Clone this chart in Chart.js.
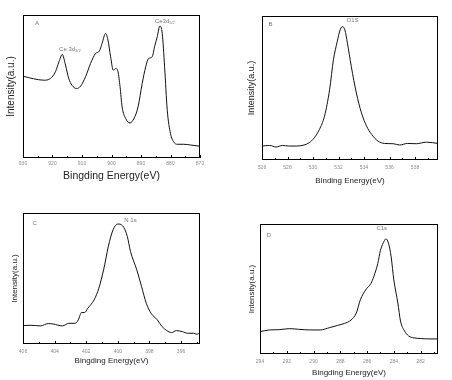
<!DOCTYPE html>
<html>
<head>
<meta charset="utf-8">
<script src="https://cdn.jsdelivr.net/npm/chart.js@4.4.0/dist/chart.umd.min.js"></script>
<style>
  html, body { margin: 0; padding: 0; background: #fff; }
  #wrap { position: relative; width: 452px; height: 380px; }
  .panel { position: absolute; width: 226px; height: 190px; }
</style>
</head>
<body>
<div id="wrap">
  <div class="panel" style="left:0;top:0"><canvas id="chartA" width="226" height="190"></canvas></div>
  <div class="panel" style="left:226px;top:0"><canvas id="chartB" width="226" height="190"></canvas></div>
  <div class="panel" style="left:0;top:190px"><canvas id="chartC" width="226" height="190"></canvas></div>
  <div class="panel" style="left:226px;top:190px"><canvas id="chartD" width="226" height="190"></canvas></div>
</div>
<script>
// Ce 3d spectrum (panel A)
const ceEnergy = [930, 926.4, 923, 920.7, 919, 917.8, 916.7, 915.6, 914.5, 913.4, 911.9, 910.5, 908.8, 907.1,
    905.4, 904.1, 903.2, 902, 901.2, 900.3, 899.4, 898.6, 897.8, 897.1, 896.4, 895.2, 893.7, 892.4, 891,
    889.6, 888.4, 887.5, 886.2, 885.4, 884.5, 883.6, 882.8, 882, 881.1, 880, 878.9, 877.7, 875.5, 873.2, 870];
const ceIntensity = [0.572, 0.554, 0.544, 0.556, 0.603, 0.673, 0.724, 0.650, 0.556, 0.509, 0.486, 0.502, 0.568, 0.661,
    0.731, 0.748, 0.801, 0.871, 0.825, 0.708, 0.614, 0.626, 0.603, 0.498, 0.357, 0.276, 0.245, 0.276, 0.357,
    0.521, 0.638, 0.694, 0.708, 0.778, 0.848, 0.923, 0.871, 0.638, 0.334, 0.171, 0.112, 0.096, 0.096, 0.091, 0.082];

// O 1s spectrum (panel B)
const oEnergy = [526, 526.6, 527.1, 527.6, 528.1, 528.7, 529.3, 529.7, 530.1, 530.5, 530.9, 531.3, 531.6, 531.9,
    532.1, 532.3, 532.5, 532.7, 533.0, 533.4, 533.8, 534.2, 534.6, 535.1, 535.6, 536.3, 536.8, 537.4, 538.1, 538.9, 539.8];
const oIntensity = [0.097, 0.101, 0.090, 0.101, 0.097, 0.097, 0.104, 0.120, 0.154, 0.212, 0.304, 0.488, 0.696, 0.823,
    0.896, 0.926, 0.903, 0.811, 0.650, 0.465, 0.327, 0.235, 0.177, 0.131, 0.115, 0.113, 0.104, 0.115, 0.113, 0.124, 0.115];

// N 1s spectrum (panel C)
const nEnergy = [406, 405.5, 404.9, 404.4, 404.1, 403.5, 403.1, 402.7, 402.5, 402.3, 402.1, 401.9, 401.5, 401.2,
    400.9, 400.6, 400.3, 400.0, 399.7, 399.4, 399.2, 398.8, 398.5, 398.2, 397.9, 397.5, 397.2, 396.9, 396.6,
    396.3, 395.9, 395.6, 395.2, 395.0, 394.8];
const nIntensity = [0.140, 0.143, 0.138, 0.156, 0.153, 0.138, 0.158, 0.158, 0.184, 0.240, 0.240, 0.273, 0.337, 0.426,
    0.566, 0.745, 0.872, 0.916, 0.903, 0.821, 0.707, 0.566, 0.439, 0.311, 0.235, 0.184, 0.133, 0.102, 0.087,
    0.102, 0.094, 0.082, 0.082, 0.074, 0.087];

// C 1s spectrum (panel D)
const cEnergy = [294, 293.3, 292.6, 291.8, 291.1, 290.3, 289.5, 288.8, 288.2, 287.7, 287.2, 286.8, 286.5, 286.1,
    285.7, 285.5, 285.2, 285.0, 284.7, 284.6, 284.4, 284.2, 284.0, 283.7, 283.5, 283.2, 282.9, 282.5, 282.0, 281.3, 280.7];
const cIntensity = [0.172, 0.185, 0.187, 0.195, 0.190, 0.185, 0.185, 0.203, 0.220, 0.235, 0.261, 0.316, 0.418, 0.494,
    0.544, 0.595, 0.696, 0.797, 0.873, 0.886, 0.853, 0.747, 0.570, 0.392, 0.253, 0.177, 0.139, 0.124, 0.119, 0.116, 0.116];

const FONT = "'Liberation Sans', Arial, sans-serif";

// box around the plot + inward tick marks + small peak labels
const framePlugin = {
    id: 'frameTicks',
    afterDatasetsDraw(chart, args, opts) {
        const { ctx, chartArea: a, scales: { x, y } } = chart;
        ctx.save();
        ctx.strokeStyle = '#000';
        ctx.lineWidth = 1;
        ctx.strokeRect(a.left + 0.5, a.top + 0.5, a.right - a.left - 1, a.bottom - a.top - 1);
        const lo = Math.min(x.min, x.max), hi = Math.max(x.min, x.max);
        x.ticks.forEach(t => {
            if (t.value < lo || t.value > hi) return;
            const px = Math.round(x.getPixelForValue(t.value)) + 0.5;
            const len = t.label ? 3 : 2;
            ctx.beginPath();
            ctx.moveTo(px, a.bottom);
            ctx.lineTo(px, a.bottom - len);
            ctx.stroke();
        });
        ctx.fillStyle = '#777';
        ctx.textBaseline = 'middle';
        (opts.items || []).forEach(it => {
            const px = x.getPixelForValue(it.x);
            const py = y.getPixelForValue(it.y);
            ctx.font = `6px ${FONT}`;
            const w = ctx.measureText(it.text).width;
            let sw = 0;
            if (it.sub) {
                ctx.font = `4px ${FONT}`;
                sw = ctx.measureText(it.sub).width;
            }
            const x0 = it.align === 'left' ? px : px - (w + sw) / 2;
            ctx.font = `6px ${FONT}`;
            ctx.textAlign = 'left';
            ctx.fillText(it.text, x0, py);
            if (it.sub) {
                ctx.font = `4px ${FONT}`;
                ctx.fillText(it.sub, x0 + w, py + 2);
            }
        });
        ctx.restore();
    }
};

function makePanel(id, energy, intensity, cfg) {
    const pts = energy.map((e, i) => ({ x: e, y: intensity[i] }));
    return new Chart(document.getElementById(id), {
        type: 'line',
        data: {
            datasets: [{
                data: pts,
                borderColor: '#111',
                borderWidth: 1,
                pointRadius: 0,
                cubicInterpolationMode: 'monotone'
            }]
        },
        options: {
            responsive: false,
            animation: false,
            layout: { padding: cfg.pad },
            plugins: {
                legend: { display: false },
                tooltip: { enabled: false },
                frameTicks: { items: cfg.labels }
            },
            scales: {
                x: {
                    type: 'linear',
                    reverse: cfg.reverse,
                    min: cfg.xMin,
                    max: cfg.xMax,
                    grid: { display: false, drawTicks: false },
                    border: { display: false },
                    ticks: {
                        stepSize: cfg.step,
                        includeBounds: false,
                        autoSkip: false,
                        maxRotation: 0,
                        padding: cfg.tickPad,
                        color: '#8a8a8a',
                        font: { size: 5, family: FONT },
                        callback: v => (Math.abs(v % cfg.major) < 1e-6 ? String(v) : '')
                    },
                    title: {
                        display: true,
                        text: cfg.xTitle,
                        color: '#222',
                        font: { size: cfg.xTitleSize, family: FONT },
                        padding: { top: 0, bottom: cfg.xTitlePad }
                    },
                    afterFit: s => { s.height = cfg.xHeight; }
                },
                y: {
                    min: 0,
                    max: 1,
                    grid: { display: false, drawTicks: false },
                    border: { display: false },
                    ticks: { display: false },
                    title: {
                        display: true,
                        text: 'Intensity(a.u.)',
                        color: '#222',
                        font: { size: cfg.yTitleSize, family: FONT },
                        padding: 0
                    },
                    afterFit: s => { s.width = cfg.yWidth; }
                }
            }
        },
        plugins: [framePlugin]
    });
}

makePanel('chartA', ceEnergy, ceIntensity, {
    xMin: 870, xMax: 930, reverse: true, step: 5, major: 10, tickPad: 3,
    pad: { left: 5, right: 26, top: 15, bottom: 0 }, yWidth: 18, xHeight: 32,
    xTitle: 'Bingding Energy(eV)', xTitleSize: 10.5, xTitlePad: 8, yTitleSize: 10,
    labels: [
        { text: 'A', x: 925.9, y: 0.944, align: 'left' },
        { text: 'Ce 3d', sub: '3/2', x: 914.1, y: 0.762 },
        { text: 'Ce3d', sub: '5/2', x: 881.9, y: 0.958 }
    ]
});

makePanel('chartB', oEnergy, oIntensity, {
    xMin: 526, xMax: 539.8, reverse: false, step: 1, major: 2, tickPad: 5,
    pad: { left: 20, right: 14, top: 16, bottom: 0 }, yWidth: 16, xHeight: 30,
    xTitle: 'Binding Energy(eV)', xTitleSize: 8, xTitlePad: 4, yTitleSize: 9,
    labels: [
        { text: 'B', x: 526.5, y: 0.94, align: 'left' },
        { text: 'O1S', x: 533.1, y: 0.97 }
    ]
});

makePanel('chartC', nEnergy, nIntensity, {
    xMin: 394.8, xMax: 406, reverse: true, step: 1, major: 2, tickPad: 5,
    pad: { left: 10, right: 26, top: 23, bottom: 0 }, yWidth: 13, xHeight: 36,
    xTitle: 'Bingding Energy(eV)', xTitleSize: 8, xTitlePad: 14, yTitleSize: 8,
    labels: [
        { text: 'C', x: 405.4, y: 0.924, align: 'left' },
        { text: 'N 1s', x: 399.2, y: 0.947 }
    ]
});

makePanel('chartD', cEnergy, cIntensity, {
    xMin: 280.7, xMax: 294, reverse: true, step: 1, major: 2, tickPad: 5,
    pad: { left: 21, right: 14, top: 34, bottom: 0 }, yWidth: 13, xHeight: 26,
    xTitle: 'Bingding Energy(eV)', xTitleSize: 8, xTitlePad: 2, yTitleSize: 8,
    labels: [
        { text: 'D', x: 293.5, y: 0.915, align: 'left' },
        { text: 'C1s', x: 284.9, y: 0.97 }
    ]
});
</script>
</body>
</html>
